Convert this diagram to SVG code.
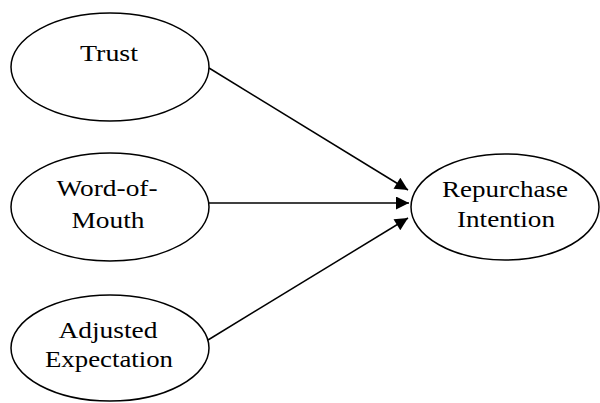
<svg xmlns="http://www.w3.org/2000/svg" width="600" height="403" viewBox="0 0 600 403">
<style>
.node ellipse{fill:#fff;stroke:#000;stroke-width:1.5}
.node text{font-family:"Liberation Serif","Times New Roman",serif;font-size:24px;fill:#000;text-anchor:middle}
.edge{stroke:#000;stroke-width:1.5;fill:none;marker-end:url(#arr)}
</style>
<defs>
<marker id="arr" viewBox="0 0 10 10" refX="10" refY="5" markerUnits="userSpaceOnUse" markerWidth="16" markerHeight="13" orient="auto">
<path d="M0,0 L10,5 L0,10 Z" fill="#000"/>
</marker>
</defs>
<rect width="600" height="403" fill="#fff"/>
<g id="connectors">
<line class="edge" x1="209" y1="68" x2="408" y2="190"/>
<line class="edge" x1="209" y1="203" x2="409" y2="203"/>
<line class="edge" x1="208" y1="340" x2="408" y2="218"/>
</g>
<g id="trust" class="node">
<ellipse cx="110" cy="67" rx="99" ry="54"/>
<text x="109" y="61" textLength="58" lengthAdjust="spacingAndGlyphs">Trust</text>
</g>
<g id="word-of-mouth" class="node">
<ellipse cx="110" cy="207" rx="99" ry="54"/>
<text x="107" y="196" textLength="101" lengthAdjust="spacingAndGlyphs">Word-of-</text>
<text x="108" y="228" textLength="73" lengthAdjust="spacingAndGlyphs">Mouth</text>
</g>
<g id="adjusted-expectation" class="node">
<ellipse cx="110" cy="348" rx="99" ry="53"/>
<text x="108" y="338" textLength="99" lengthAdjust="spacingAndGlyphs">Adjusted</text>
<text x="109" y="367" textLength="128" lengthAdjust="spacingAndGlyphs">Expectation</text>
</g>
<g id="repurchase-intention" class="node">
<ellipse cx="505" cy="207" rx="94" ry="53"/>
<text x="505" y="197" textLength="126" lengthAdjust="spacingAndGlyphs">Repurchase</text>
<text x="506" y="227" textLength="98" lengthAdjust="spacingAndGlyphs">Intention</text>
</g>
</svg>
